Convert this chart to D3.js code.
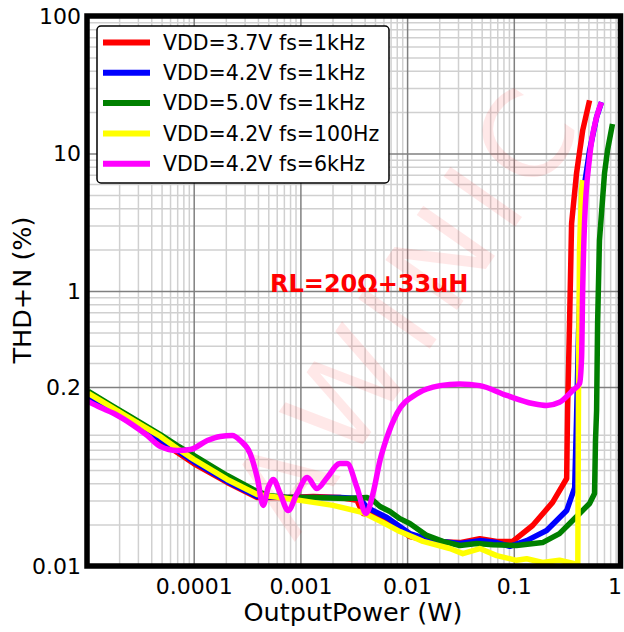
<!DOCTYPE html>
<html><head><meta charset="utf-8">
<script src="https://cdn.jsdelivr.net/npm/d3@7"></script>
<style>body{margin:0;background:#fff}svg{display:block}</style>
</head><body><svg id="c" width="624" height="632"></svg>
<script>
// ---- data ----
const seriesNames = ["VDD=3.7V fs=1kHz","VDD=4.2V fs=1kHz","VDD=5.0V fs=1kHz","VDD=4.2V fs=100Hz","VDD=4.2V fs=6kHz"];
const seriesColors = ["#ff0000","#0000ff","#008000","#ffff00","#ff00ff"];
const xTickValues = [1e-4,1e-3,1e-2,1e-1,1];
const xTickLabels = ["0.0001","0.001","0.01","0.1","1"];
const yTickValues = [0.01,0.2,1,10,100];
const yTickLabels = ["0.01","0.2","1","10","100"];
const xLabel = "OutputPower (W)";
const yLabel = "THD+N (%)";
const note = "RL=20Ω+33uH";
const watermark = "AWINIC";

const red37P = [1.03e-5,1.77e-5,2.55e-5,4.87e-5,7.02e-5,1.0e-4,2.06e-4,3.94e-4,7.52e-4,1.32e-3,2.35e-3,3.39e-3,3.86e-3,4.49e-3,6.47e-3,0.0106,0.0174,0.0312,0.048,0.0692,0.0977,0.150,0.231,0.313,0.319,0.333,0.348,0.387,0.442,0.513];
const red37T = [0.168,0.131,0.111,0.0818,0.0669,0.0556,0.0405,0.0315,0.0315,0.0320,0.0315,0.0300,0.0241,0.0237,0.0211,0.0164,0.0151,0.0148,0.0158,0.0151,0.0151,0.0197,0.0290,0.0433,0.135,0.580,3.10,7.16,14.7,24.3];

const blue42P = [1.03e-5,1.77e-5,2.55e-5,4.87e-5,7.02e-5,1.0e-4,2.06e-4,3.94e-4,7.52e-4,1.32e-3,2.35e-3,3.61e-3,4.21e-3,6.47e-3,0.0106,0.0174,0.0312,0.048,0.0692,0.0917,0.132,0.203,0.313,0.372,0.387,0.405,0.432,0.451,0.513,0.597,0.664];
const blue42T = [0.171,0.133,0.113,0.0832,0.0692,0.0575,0.0412,0.0320,0.0315,0.0315,0.0315,0.0310,0.0266,0.0225,0.0172,0.0153,0.0146,0.0153,0.0148,0.0139,0.0153,0.0181,0.0253,0.0372,0.114,0.516,1.97,5.38,10.5,18.4,23.6];

const green50P = [1.03e-5,1.77e-5,2.55e-5,4.87e-5,7.02e-5,1.0e-4,2.06e-4,3.61e-4,4.99e-4,7.52e-4,1.32e-3,2.74e-3,4.21e-3,4.79e-3,5.57e-3,6.90e-3,8.57e-3,0.0106,0.0153,0.0216,0.0312,0.045,0.0636,0.106,0.186,0.268,0.356,0.513,0.571,0.583,0.597,0.610,0.635,0.708,0.755,0.841];
const green50T = [0.186,0.1445,0.122,0.0904,0.0752,0.0637,0.0455,0.0360,0.0326,0.0315,0.0315,0.0310,0.0315,0.0300,0.0271,0.0249,0.0221,0.0204,0.0167,0.0151,0.0141,0.0146,0.0143,0.0141,0.0148,0.0172,0.0214,0.0285,0.0337,0.0818,0.135,0.580,2.33,7.16,10.5,16.4];

const yellow100P = [1.03e-5,1.77e-5,2.55e-5,4.87e-5,7.02e-5,1.0e-4,2.06e-4,3.94e-4,7.52e-4,9.93e-4,2.02e-3,3.86e-3,5.94e-3,8.57e-3,0.0141,0.0251,0.0333,0.048,0.0692,0.106,0.132,0.186,0.268,0.372,0.398,0.405,0.413,0.432,0.442];
const yellow100T = [0.180,0.140,0.118,0.0875,0.0716,0.0596,0.0426,0.0331,0.0310,0.0300,0.0276,0.0245,0.0207,0.0178,0.0151,0.0134,0.0123,0.0134,0.0119,0.0110,0.0113,0.0106,0.0110,0.0104,0.0099,0.30,2.0,5.4,6.4];

const magenta6kP = [1.03e-5,1.34e-5,1.77e-5,2.55e-5,3.68e-5,4.87e-5,7.02e-5,9.29e-5,1.34e-4,1.77e-4,2.30e-4,2.73e-4,3.38e-4,3.94e-4,4.48e-4,4.99e-4,5.56e-4,6.46e-4,7.67e-4,9.31e-4,1.16e-3,1.43e-3,1.78e-3,2.35e-3,2.74e-3,3.39e-3,4.12e-3,4.79e-3,5.57e-3,6.47e-3,8.04e-3,0.0124,0.0203,0.0312,0.048,0.0859,0.150,0.203,0.268,0.356,0.413,0.432,0.442,0.460,0.513,0.597,0.664];
const magenta6kT = [0.157,0.142,0.129,0.109,0.0889,0.0740,0.0692,0.0703,0.0818,0.0875,0.0889,0.0818,0.0658,0.0440,0.0276,0.0372,0.0426,0.0337,0.0253,0.0337,0.0440,0.0366,0.0440,0.0556,0.0556,0.0372,0.0241,0.0337,0.0585,0.0861,0.129,0.179,0.205,0.211,0.205,0.174,0.152,0.147,0.155,0.189,0.212,0.330,1.01,3.10,9.35,18.4,23.6];

const seriesP = [red37P, blue42P, green50P, yellow100P, magenta6kP];
const seriesT = [red37T, blue42T, green50T, yellow100T, magenta6kT];

// ---- layout ----
const L = 87, R = 620.5, T = 16, B = 566;
const FONT = "DejaVu Sans, Verdana, sans-serif";
const svg = d3.select("#c");
svg.append("rect").attr("width",624).attr("height",632).attr("fill","#fff");

const x = d3.scaleLog().domain([1e-5, 1]).range([L, R]);
const y = d3.scaleLog().domain([0.01, 100]).range([B, T]);

// grid values
const xMinor = [], yMinor = [];
for (let k = -5; k <= -1; k++) for (let m = 2; m <= 9; m++) xMinor.push(m * Math.pow(10, k));
for (let k = -2; k <= 1; k++) for (let m = 2; m <= 9; m++) { const v = m * Math.pow(10, k); if (Math.abs(v - 0.2) > 1e-9) yMinor.push(v); }
const xMajor = [1e-4,1e-3,1e-2,1e-1];
const yMajor = [0.2,1,10];

const grid = svg.append("g");
function gridX(vals, color) {
  grid.append("g").attr("transform", `translate(0,${B})`)
    .call(d3.axisBottom(x).tickValues(vals).tickSize(-(B - T)).tickFormat(""))
    .call(g => g.select(".domain").remove())
    .call(g => g.selectAll("line").attr("stroke", color).attr("stroke-width", 1.5));
}
function gridY(vals, color) {
  grid.append("g").attr("transform", `translate(${L},0)`)
    .call(d3.axisLeft(y).tickValues(vals).tickSize(-(R - L)).tickFormat(""))
    .call(g => g.select(".domain").remove())
    .call(g => g.selectAll("line").attr("stroke", color).attr("stroke-width", 1.5));
}
gridX(xMinor, "#d0d0d0");
gridY(yMinor, "#d0d0d0");
gridX(xMajor, "#808080");
gridY(yMajor, "#808080");

// watermark (faint), one glyph at a time along a diagonal
(function () {
  const ang = -55 * Math.PI / 180, fs = 120, gap = 12;
  const adv = { A: 0.684, W: 0.989, I: 0.295, N: 0.748, C: 0.698 };
  const chars = watermark.split("");
  const widths = chars.map(c => (adv[c] || 0.7) * fs);
  const total = d3.sum(widths) + gap * (chars.length - 1);
  let s = -total / 2;
  const wm = svg.append("g");
  chars.forEach((c, i) => {
    const mid = s + widths[i] / 2;
    const cx = 405 + mid * Math.cos(ang), cy = 312 + mid * Math.sin(ang);
    wm.append("text").attr("transform", `translate(${cx},${cy}) rotate(-55)`)
      .attr("text-anchor", "middle").attr("dominant-baseline", "central")
      .attr("font-family", FONT).attr("font-size", fs)
      .attr("fill", "#ff0000").attr("fill-opacity", 0.09).text(c);
    s += widths[i] + gap;
  });
})();

// clip
svg.append("defs").append("clipPath").attr("id", "clip")
  .append("rect").attr("x", L).attr("y", T).attr("width", R - L).attr("height", B - T);

const lines = svg.append("g").attr("clip-path", "url(#clip)");
seriesNames.forEach((name, i) => {
  const pts = seriesP[i].map((p, j) => [p, seriesT[i][j]]);
  const gen = d3.line().x(d => x(d[0])).y(d => y(d[1]))
    .curve(i === 4 ? d3.curveMonotoneX : d3.curveLinear);
  lines.append("path").attr("d", gen(pts)).attr("fill", "none")
    .attr("stroke", seriesColors[i]).attr("stroke-width", 5.5)
    .attr("stroke-linejoin", "round").attr("stroke-linecap", "butt");
});

// frame
svg.append("rect").attr("x", L).attr("y", T).attr("width", R - L).attr("height", B - T)
  .attr("fill", "none").attr("stroke", "#000").attr("stroke-width", 5.5);

// axes labels
const xa = svg.append("g").attr("transform", `translate(0,${B})`)
  .call(d3.axisBottom(x).tickValues(xTickValues).tickSize(0).tickPadding(12)
    .tickFormat((d, i) => xTickLabels[i]));
xa.select(".domain").remove();
xa.selectAll("text").attr("font-family", FONT).attr("font-size", 22).attr("fill", "#000");
xa.selectAll("text").filter((d) => d === 1).attr("text-anchor", "end").attr("dx", "0.05em");

const ya = svg.append("g").attr("transform", `translate(${L},0)`)
  .call(d3.axisLeft(y).tickValues(yTickValues).tickSize(0).tickPadding(6)
    .tickFormat((d, i) => yTickLabels[i]));
ya.select(".domain").remove();
ya.selectAll("text").attr("font-family", FONT).attr("font-size", 22).attr("fill", "#000");

svg.append("text").attr("x", 353).attr("y", 621).attr("text-anchor", "middle")
  .attr("font-family", FONT).attr("font-size", 25.5).attr("fill", "#000").text(xLabel);
svg.append("text").attr("transform", "translate(31,290) rotate(-90)").attr("text-anchor", "middle")
  .attr("font-family", FONT).attr("font-size", 25.5).attr("fill", "#000").text(yLabel);

// annotation
svg.append("text").attr("x", 270).attr("y", 292)
  .attr("font-family", FONT).attr("font-weight", "bold").attr("font-size", 24)
  .attr("fill", "#ff0000").text(note);

// legend
const lg = svg.append("g");
lg.append("rect").attr("x", 97).attr("y", 26).attr("width", 292).attr("height", 157).attr("rx", 4)
  .attr("fill", "#fff").attr("stroke", "#000").attr("stroke-width", 1.5);
seriesNames.forEach((name, i) => {
  const yy = 42.5 + i * 30.3;
  lg.append("line").attr("x1", 103).attr("x2", 150).attr("y1", yy).attr("y2", yy)
    .attr("stroke", seriesColors[i]).attr("stroke-width", 6);
  lg.append("text").attr("x", 163).attr("y", yy).attr("dy", "0.36em")
    .attr("font-family", FONT).attr("font-size", 20.5).attr("fill", "#000").text(name);
});
</script></body></html>
